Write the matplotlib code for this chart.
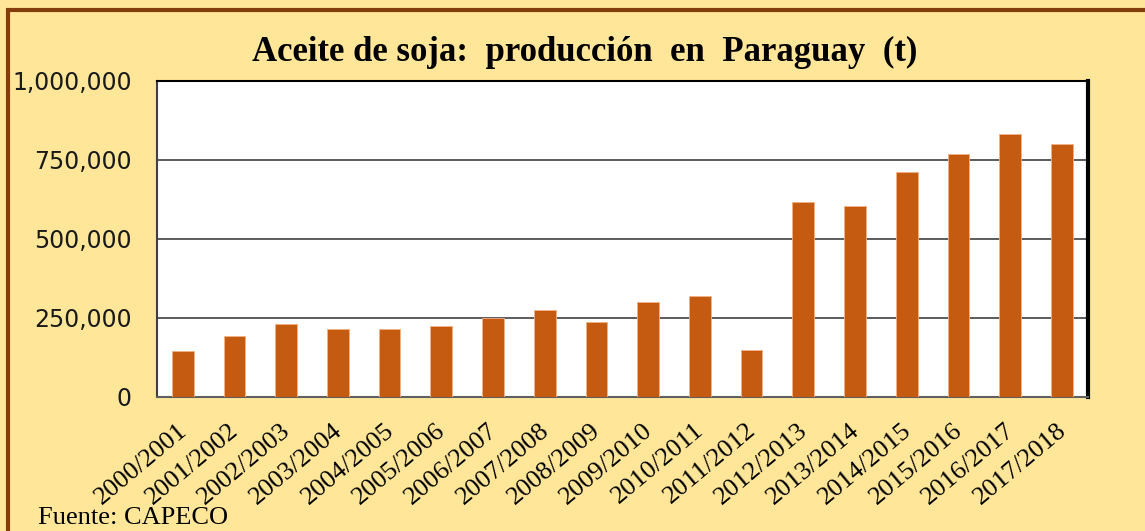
import numpy as np
import matplotlib.pyplot as plt
from matplotlib.ticker import FuncFormatter
from matplotlib.patches import Rectangle
from matplotlib.transforms import ScaledTranslation

campanas = ['2000/2001', '2001/2002', '2002/2003', '2003/2004', '2004/2005',
            '2005/2006', '2006/2007', '2007/2008', '2008/2009', '2009/2010',
            '2010/2011', '2011/2012', '2012/2013', '2013/2014', '2014/2015',
            '2015/2016', '2016/2017', '2017/2018']
produccion = [144000, 192000, 232000, 214000, 214000, 226000, 250000, 274000,
              236000, 300000, 321000, 150000, 617000, 603000, 711000, 770000,
              832000, 800000]
yticks = [0, 250000, 500000, 750000, 1000000]

fondo = '#FFE699'
barra = '#C55A11'

fig = plt.figure(figsize=(11.45, 5.31), dpi=100, facecolor=fondo)
# marco marron
fig.patches.append(Rectangle((8 / 1145, -0.1), 1.2, 1 - 10 / 531 + 0.1,
                             transform=fig.transFigure, fill=False,
                             edgecolor='#843C0C', linewidth=3))

ax = fig.add_axes([0.137, 0.2524, 0.813, 0.5951])
x = np.arange(len(campanas))
ax.bar(x, produccion, width=0.42, color=barra, edgecolor='#F4B183',
       linewidth=0.6, zorder=3)

ax.set_xlim(-0.5, len(campanas) - 0.5)
ax.set_ylim(0, 1000000)
ax.set_yticks(yticks)
ax.yaxis.set_major_formatter(FuncFormatter(lambda v, p: f'{int(v):,}'))
ax.grid(axis='y', color='#404040', linewidth=1.2, zorder=1)
ax.tick_params(axis='y', length=0, pad=18, labelsize=17, colors='#1a1a1a')
ax.tick_params(axis='x', length=0, pad=22)
ax.set_xticks(x)
ax.set_xticklabels(campanas, rotation=40, ha='right', va='center',
                   rotation_mode='anchor', family='Liberation Serif',
                   fontsize=19)
off = ScaledTranslation(1 / 72, 0, fig.dpi_scale_trans)
for lbl in ax.get_xticklabels():
    lbl.set_transform(lbl.get_transform() + off)
for lbl in ax.get_yticklabels():
    lbl.set_family('DejaVu Sans')

ax.spines['left'].set_color('#404040')
ax.spines['left'].set_linewidth(1.5)
ax.spines['bottom'].set_color('#606060')
ax.spines['bottom'].set_linewidth(1.5)
ax.spines['top'].set_color('black')
ax.spines['top'].set_linewidth(1.5)
ax.spines['right'].set_color('black')
ax.spines['right'].set_linewidth(3)

fig.text(0.511, 0.902, 'Aceite de soja:  producción  en  Paraguay  (t)',
         ha='center', va='center', family='Liberation Serif',
         fontweight='bold', fontsize=25)
fig.text(0.033, 0.004, 'Fuente: CAPECO', ha='left', va='bottom',
         family='Liberation Serif', fontsize=19)

fig.savefig('out.png', dpi=100, facecolor=fondo)
